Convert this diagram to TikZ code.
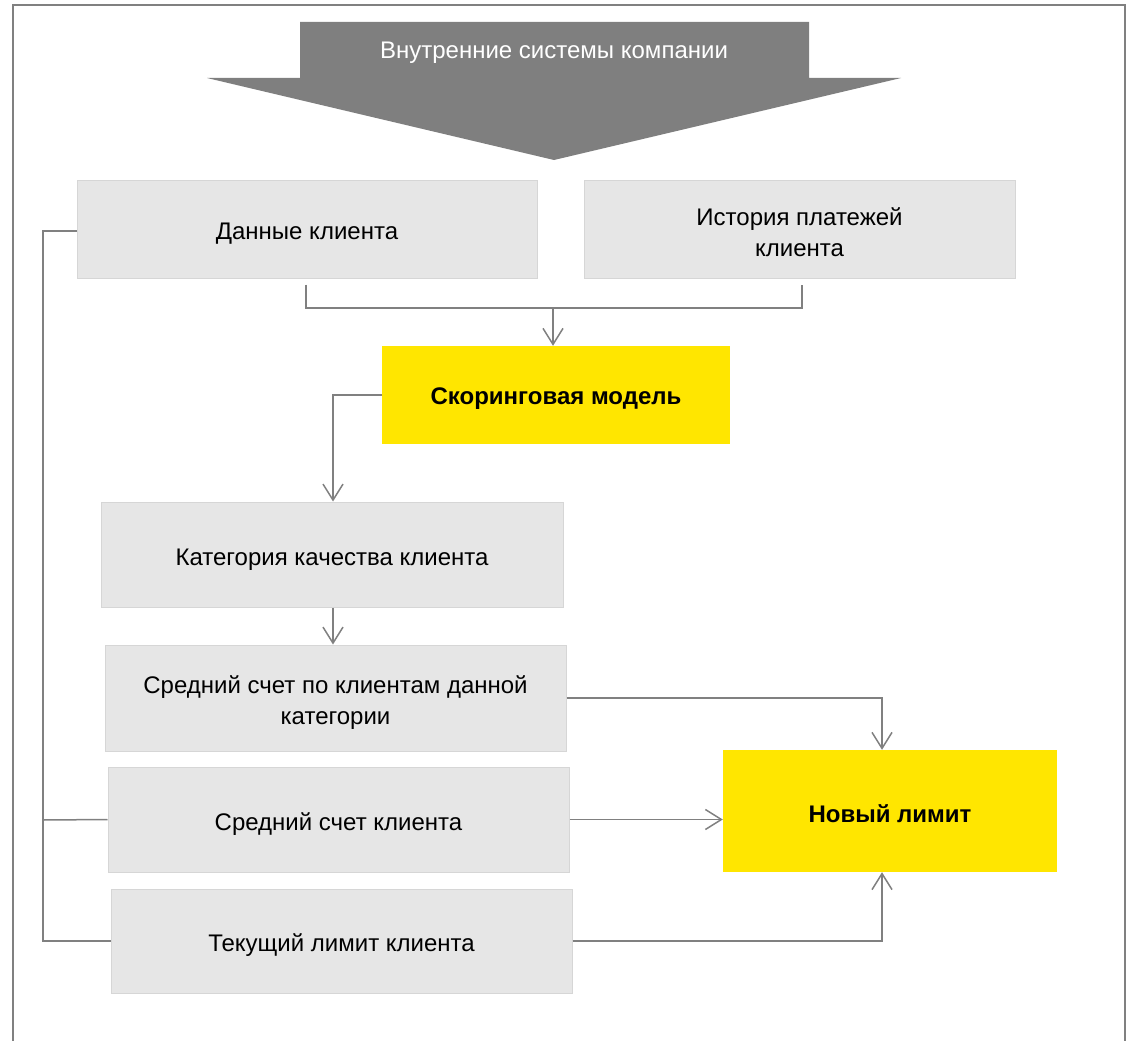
\documentclass[tikz,border=0pt]{standalone}
\usepackage{fontspec}
\setmainfont{Liberation Sans}
\usetikzlibrary{arrows.meta}
\definecolor{linegray}{HTML}{808080}
\definecolor{boxfill}{HTML}{E6E6E6}
\definecolor{boxedge}{HTML}{D6D6D6}
\definecolor{eyyellow}{HTML}{FFE600}
\definecolor{bigarrow}{HTML}{7F7F7F}
\newcommand{\dnstrut}[1]{\rule{0pt}{#1}}
\tikzset{
  greybox/.style={rectangle, fill=boxfill, draw=boxedge, line width=1pt, align=center,
    font=\fontsize{24}{31}\selectfont, inner sep=0pt,
    execute at begin node={\dnstrut{26.5pt}}},
  yellowbox/.style={rectangle, fill=eyyellow, draw=none, align=center,
    font=\fontsize{24}{31}\selectfont\bfseries, inner sep=0pt,
    execute at begin node={\dnstrut{23pt}}},
  conn/.style={draw=linegray, line width=1.5pt},
  arr/.style={conn, -{Straight Barb[length=16pt,width=20pt,line width=1.5pt]}},
}
\begin{document}
\begin{tikzpicture}[x=1pt,y=-1pt]
\useasboundingbox (0,0) rectangle (1130,1041);
% frame
\draw[draw=linegray, line width=1.5pt] (13,1041) -- (13,5) -- (1125,5) -- (1125,1041);
% big arrow
\fill[bigarrow] (300,22) -- (809,22) -- (809,78) -- (901,78) -- (554,160) -- (207,78) -- (300,78) -- cycle;
\node[text=white, font=\fontsize{24}{28}\selectfont] (top) at (554,53) {Внутренние системы компании};
% boxes
\node[greybox, minimum width=460pt, minimum height=98pt] (d) at (307,229) {Данные клиента};
\node[greybox, minimum width=431pt, minimum height=98pt] (h) at (799.5,229) {\dnstrut{25pt}История платежей\\клиента};
\node[yellowbox, minimum width=348pt, minimum height=98pt] (s) at (556,395) {Скоринговая модель};
\node[greybox, minimum width=462pt, minimum height=105pt] (k) at (332,554.5) {Категория качества клиента};
\node[greybox, minimum width=461pt, minimum height=106pt] (a) at (335.5,698) {\dnstrut{27pt}Средний счет по клиентам данной\\категории};
\node[greybox, minimum width=461pt, minimum height=105pt] (c) at (338.5,819.5) {Средний счет клиента};
\node[greybox, minimum width=461pt, minimum height=104pt] (t) at (341.5,941) {Текущий лимит клиента};
\node[yellowbox, minimum width=334pt, minimum height=122pt] (n) at (890,811) {Новый лимит};
% connectors
\coordinate (mid) at (553,308);
\draw[conn] ([xshift=-1pt,yshift=-6pt]d.south) |- (mid) -| ([xshift=2.5pt,yshift=-6pt]h.south);
\draw[arr] (mid) -- (mid |- s.north);
\draw[arr] (s.west) -| ([xshift=1pt]k.north);
\draw[arr] ([xshift=1pt]k.south) -- ([xshift=-2.5pt]a.north);
\draw[arr] (a.east) -| ([xshift=-8pt]n.north);
\draw[arr] (c.east) -- (c.east -| n.west);
\draw[arr] (t.east) -| ([xshift=-8pt]n.south);
% left bus
\coordinate (bt) at (43,231);
\coordinate (bc) at (43,820);
\coordinate (bb) at (43,941);
\draw[conn] (d.west |- bt) -- (bt) -- (bb) -- (t.west);
\draw[conn] (bc) -- (c.west);
\end{tikzpicture}
\end{document}
